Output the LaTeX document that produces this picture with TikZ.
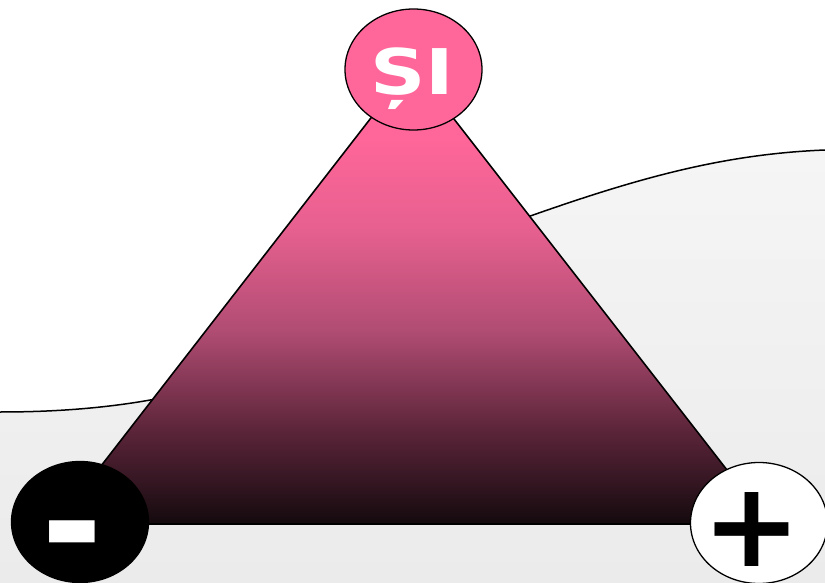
\documentclass[tikz,border=0pt]{standalone}
\usepackage{graphicx}
\usepackage{fontspec}
\setmainfont{DejaVu Sans}
\usetikzlibrary{shapes.geometric}
\definecolor{pinkc}{HTML}{FF6699}
\definecolor{bgtop}{HTML}{F5F5F5}
\definecolor{bgbot}{HTML}{EBEBEB}
\definecolor{g0}{HTML}{140A0E}
\definecolor{g1}{HTML}{5A2438}
\definecolor{g2}{HTML}{B04C72}
\definecolor{g3}{HTML}{E6608F}
\pgfdeclareverticalshading{trishade}{100bp}{color(0bp)=(g0); color(25bp)=(g0); color(35bp)=(g1); color(46bp)=(g2); color(57bp)=(g3); color(67bp)=(pinkc); color(100bp)=(pinkc)}
\tikzset{
  blob/.style={ellipse, draw=black, line width=1.3pt, inner sep=0pt, minimum width=137pt, minimum height=121pt},
  bigsign/.style={inner sep=0pt, font=\fontsize{118}{118}\selectfont\bfseries},
  edgeline/.style={line width=1.6pt, draw=black}
}
\begin{document}
\begin{tikzpicture}[x=1pt,y=-1pt]
\useasboundingbox (0,0) rectangle (825,583);
\fill[white] (0,0) rectangle (825,583);
% background wave
\shade[top color=bgtop, bottom color=bgbot]
  (0,412) .. controls (200,412) and (330,360) .. (450,245)
  .. controls (600,190) and (700,155) .. (825,150)
  -- (825,583) -- (0,583) -- cycle;
\draw[line width=1.5pt] (0,412) .. controls (200,412) and (330,360) .. (450,245)
  .. controls (600,190) and (700,155) .. (825,150);
% triangle
\coordinate (apex) at (412,65);
\coordinate (bl) at (56,524);
\coordinate (br) at (769,524);
\path[shading=trishade] (apex) -- (br) -- (bl) -- cycle;
\draw[edgeline, line join=round] (apex) -- (br) -- (bl) -- cycle;
% ellipses
\node[blob, fill=pinkc] (si) at (413.5,69.5) {};
\node[blob, fill=black] (minus) at (80,522) {};
\node[blob, fill=white] (plus) at (759,523) {};
% texts
\node[anchor=base, inner sep=0pt, text=white, font=\fontsize{63}{63}\selectfont\bfseries] (sitext) at (412,95) {\scalebox{1.22}[1]{ȘI}};
\node[bigsign, text=white, font=\fontsize{135}{135}\selectfont\bfseries] (minustext) at (72,549) {\scalebox{1.1}[1.15]{-}};
\node[bigsign, text=black] (plustext) at (752,530) {+};
\end{tikzpicture}
\end{document}
